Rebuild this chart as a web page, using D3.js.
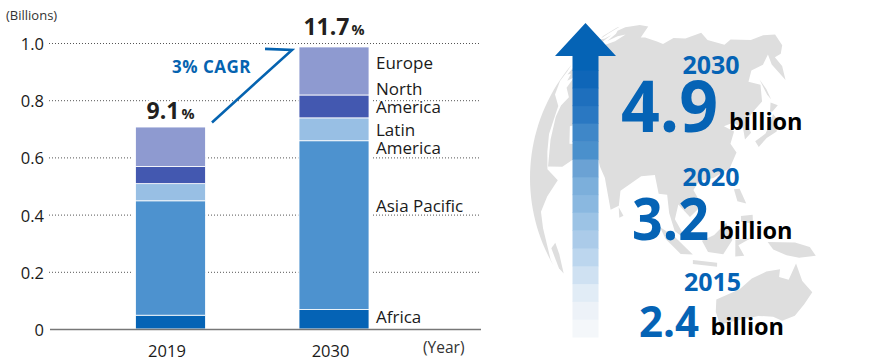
<!DOCTYPE html>
<html>
<head>
<meta charset="utf-8">
<script src="https://cdn.jsdelivr.net/npm/d3@7"></script>
<style>
  html, body { margin: 0; padding: 0; background: #fff; }
  svg { display: block; }
  text { font-family: "Open Sans", "Noto Sans", sans-serif; }
</style>
</head>
<body>
<svg id="chart" width="892" height="364"></svg>
<script>
// chart data
const years = ['2019', '2030'];
const regions = ['Africa', 'Asia Pacific', 'Latin America', 'North America', 'Europe'];
const africa = [0.05, 0.07];
const asiaPacific = [0.40, 0.59];
const latinAmerica = [0.06, 0.08];
const northAmerica = [0.06, 0.08];
const europe = [0.14, 0.17];
const shares = ['9.1', '11.7'];
const yTicks = [0, 0.2, 0.4, 0.6, 0.8, 1.0];
const regionColors = ['#0563b5', '#4d92cf', '#98bfe4', '#4358b0', '#8e9ad0'];

// right panel data
const milestones = [
  { year: '2030', value: '4.9' },
  { year: '2020', value: '3.2' },
  { year: '2015', value: '2.4' }
];
const arrowShades = ['#f4f7fa', '#edf2f8', '#e1ecf6', '#cfe1f2', '#bcd6ee', '#abcbe9', '#9cc3e5', '#8ab8e0',
  '#7cafdb', '#6ba2d4', '#4a90cc', '#3f87c8', '#2a78c2', '#1e6fbd', '#0f66b8'];

// rough coastlines, [lon, lat]
const land = [
  // Eurasia
  [[-10,37],[-9,43],[-1,44],[-4,48],[2,51],[8,54],[9,57],[12,54],[20,55],[24,59],[22,63],[18,60],[16,56],[11,59],[6,59],[6,62],[14,68],[25,71],[40,67],[44,68],[60,69],[68,69],[72,73],[86,74],[104,78],[113,74],[130,71],[140,73],[160,70],[178,69],[190,66],[180,62],[170,60],[163,60],[162,56],[157,51],[156,58],[160,62],[150,59],[140,58],[135,54],[141,52],[138,46],[132,43],[128,40],[129,36],[126,34],[126,38],[122,40],[118,39],[122,37],[120,33],[122,30],[119,25],[113,22],[108,21],[106,18],[109,13],[105,9],[101,13],[100,8],[104,1],[100,4],[98,10],[97,16],[94,16],[92,22],[87,21],[80,15],[80,10],[77,8],[73,18],[70,21],[67,25],[57,25],[50,30],[48,29],[52,24],[56,25],[59,22],[52,16],[43,13],[39,21],[35,28],[34,32],[36,36],[28,37],[27,41],[23,38],[20,40],[16,38],[13,44],[9,44],[3,43],[-1,38],[-5,36],[-10,37]],
  // Africa
  [[-6,36],[10,37],[11,33],[20,31],[32,31],[36,22],[43,12],[51,11],[40,-4],[40,-16],[35,-24],[28,-33],[18,-34],[12,-17],[9,1],[-8,4],[-17,14],[-10,30],[-6,36]],
  // Australia
  [[114,-22],[122,-18],[126,-14],[131,-12],[136,-12],[136,-15],[140,-17],[142,-11],[146,-19],[153,-26],[150,-37],[144,-38],[138,-34],[131,-32],[124,-33],[116,-35],[114,-28],[114,-22]],
  // Borneo, Sumatra, Java, Sulawesi, New Guinea, Philippines
  [[109,1],[113,3],[117,7],[119,1],[116,-4],[111,-3],[109,1]],
  [[95,5],[100,2],[106,-4],[102,-4],[97,1],[95,5]],
  [[106,-6],[114,-7],[114,-8.5],[106,-7.5],[106,-6]],
  [[120,1],[125,1],[121,-1],[123,-5],[120,-5],[120,1]],
  [[131,-1],[141,-3],[147,-6],[150,-10],[143,-9],[138,-7],[133,-4],[131,-1]],
  [[120,18],[122,18],[124,13],[121,14],[120,18]],
  [[122,9],[126,9],[126,6],[122,7],[122,9]],
  // Japan and Sakhalin
  [[130,33],[135,35],[137,37],[140,40],[141,41],[142,39],[140,35],[135,33.5],[131,31],[130,33]],
  [[140,42],[142,45],[145,43.5],[141,41.8],[140,42]],
  [[142,54],[143,50],[143,46],[142,48],[142,54]],
  // Madagascar and Sri Lanka
  [[44,-16],[49,-12],[50,-16],[47,-25],[44,-24],[44,-16]],
  [[80,9.5],[82,7],[80.5,6],[80,9.5]],
  // Great Britain
  [[-5,50],[1,51],[0,54],[-3,58],[-6,56],[-3,53],[-5,50]]
];

const svg = d3.select('#chart');

// ---- globe ----
const projection = d3.geoOrthographic()
  .rotate([-110, -22])
  .scale(175)
  .translate([705, 178]);
const geoPath = d3.geoPath(projection);

// d3.geo fills the outside of a ring wound the wrong way round
const globe = svg.append('g');
land.forEach(ring => {
  const wound = d3.polygonArea(ring) > 0 ? ring : ring.slice().reverse();
  globe.append('path')
    .attr('d', geoPath({ type: 'Polygon', coordinates: [wound] }))
    .attr('fill', '#dedede');
});

// ---- stacked bars ----
const y = d3.scaleLinear().domain([0, 1]).range([329.5, 43.5]);
const x = d3.scaleBand().domain(years).range([135.5, 369]).paddingInner(0.572).paddingOuter(0);

const rows = years.map((year, i) => ({
  year: year,
  'Africa': africa[i],
  'Asia Pacific': asiaPacific[i],
  'Latin America': latinAmerica[i],
  'North America': northAmerica[i],
  'Europe': europe[i]
}));
const stacked = d3.stack().keys(regions)(rows);
const barTop = i => y(d3.sum(stacked, s => s[i][1] - s[i][0]));

// gridlines
svg.append('g').selectAll('line')
  .data(yTicks.filter(d => d > 0))
  .join('line')
  .attr('x1', 49)
  .attr('x2', 481)
  .attr('y1', d => y(d))
  .attr('y2', d => y(d))
  .attr('stroke', '#555')
  .attr('stroke-width', 1)
  .attr('stroke-dasharray', '1 2');

svg.append('g').selectAll('g')
  .data(stacked)
  .join('g')
  .attr('fill', (d, i) => regionColors[i])
  .selectAll('rect')
  .data(d => d)
  .join('rect')
  .attr('x', d => x(d.data.year))
  .attr('width', x.bandwidth())
  .attr('y', d => y(d[1]))
  .attr('height', d => y(d[0]) - y(d[1]))
  .attr('stroke', '#fff')
  .attr('stroke-width', 0.8);

// white halo that breaks the gridlines around the bars
svg.append('g').selectAll('rect')
  .data(years)
  .join('rect')
  .attr('x', d => x(d) - 1.5)
  .attr('width', x.bandwidth() + 3)
  .attr('y', (d, i) => barTop(i))
  .attr('height', (d, i) => y(0) - barTop(i))
  .attr('fill', 'none')
  .attr('stroke', '#fff')
  .attr('stroke-width', 2);

// axes
const yAxis = d3.axisLeft(y)
  .tickValues(yTicks)
  .tickSize(0)
  .tickPadding(0)
  .tickFormat(d => d === 0 ? '0' : d3.format('.1f')(d));
const yG = svg.append('g').attr('transform', 'translate(44,0)').call(yAxis);
yG.select('.domain').remove();
yG.selectAll('text').attr('font-size', 16.5).attr('fill', '#1a1a1a').attr('dy', '0.36em');

const xAxis = d3.axisBottom(x).tickSize(0).tickPadding(0);
const xG = svg.append('g').attr('transform', 'translate(-3.5,329.5)').call(xAxis);
xG.select('.domain').remove();
xG.selectAll('text').attr('y', 27).attr('dy', 0).attr('font-size', 16.5).attr('fill', '#1a1a1a');

svg.append('line')
  .attr('x1', 50).attr('x2', 481)
  .attr('y1', y(0)).attr('y2', y(0))
  .attr('stroke', '#777').attr('stroke-width', 1.6);

svg.append('text').attr('x', 6).attr('y', 20)
  .attr('font-size', 13).attr('fill', '#333').text('(Billions)');
svg.append('text').attr('x', 423).attr('y', 353)
  .attr('font-size', 15.5).attr('fill', '#333').text('(Year)');

// share labels over the bars
const shareGap = [7, 11];
const shareLabels = svg.append('g').selectAll('text')
  .data(years)
  .join('text')
  .attr('x', d => x(d) + x.bandwidth() / 2)
  .attr('y', (d, i) => barTop(i) - shareGap[i])
  .attr('text-anchor', 'middle')
  .attr('fill', '#231f20')
  .attr('paint-order', 'stroke')
  .attr('stroke', '#fff')
  .attr('stroke-width', 5);
shareLabels.append('tspan')
  .attr('font-size', 23).attr('font-weight', 700)
  .text((d, i) => shares[i]);
shareLabels.append('tspan')
  .attr('font-size', 14.5).attr('font-weight', 700).attr('dx', 2)
  .text('%');

// region labels right of the 2030 bar, lines as in the reference
const labelLines = [['Africa'], ['Asia Pacific'], ['Latin', 'America'], ['North', 'America'], ['Europe']];
const labelBase = [323, 212, 136, 95, 69];
const labelX = x('2030') + x.bandwidth() + 7;
svg.append('g').selectAll('text')
  .data(regions)
  .join('text')
  .attr('font-size', 17)
  .attr('fill', '#1a1a1a')
  .attr('paint-order', 'stroke')
  .attr('stroke', '#fff')
  .attr('stroke-width', 3)
  .each(function(d, i) {
    d3.select(this).selectAll('tspan')
      .data(labelLines[i])
      .join('tspan')
      .attr('x', labelX)
      .attr('y', (l, j) => labelBase[i] + j * 17.5)
      .text(l => l);
  });

// CAGR connector
svg.append('path')
  .attr('d', d3.line()([
    [x('2019') + x.bandwidth() + 6.5, barTop(0) - 4],
    [x('2030') - 7, barTop(1) + 3.5],
    [x('2030') - 34, barTop(1) + 2.5]
  ]))
  .attr('fill', 'none')
  .attr('stroke', '#0563b0')
  .attr('stroke-width', 2.6);
svg.append('text')
  .attr('x', 172).attr('y', 73)
  .attr('font-size', 17).attr('font-weight', 700)
  .attr('letter-spacing', 0.5)
  .attr('fill', '#0563b0')
  .text('3% CAGR');

// ---- growth arrow ----
const arrowX = 585.5;
const arrowY = d3.scaleLinear().domain([0, arrowShades.length]).range([337, 70]);

svg.append('g').selectAll('rect')
  .data(arrowShades)
  .join('rect')
  .attr('x', arrowX - 13)
  .attr('width', 26)
  .attr('y', (d, i) => arrowY(i + 1))
  .attr('height', (d, i) => arrowY(i) - arrowY(i + 1) + 0.5)
  .attr('fill', d => d);

svg.append('path')
  .attr('d', d3.line()([
    [arrowX, 23], [arrowX + 30.5, 56], [arrowX + 13, 56], [arrowX + 13, 70.5],
    [arrowX - 13, 70.5], [arrowX - 13, 56], [arrowX - 30.5, 56]
  ]) + 'Z')
  .attr('fill', '#0563b5');

// ---- population figures ----
const figureSpots = [
  { yearX: 711, yearY: 73.5, valueX: 621, valueY: 132, size: 72, width: 97, unitX: 729, unitY: 130 },
  { yearX: 711, yearY: 186, valueX: 632, valueY: 240, size: 59, width: 77, unitX: 719, unitY: 239 },
  { yearX: 712.5, yearY: 291, valueX: 639, valueY: 336.5, size: 43, width: 60, unitX: 710.5, unitY: 335 }
];
const figures = svg.append('g').selectAll('g')
  .data(milestones)
  .join('g');
figures.append('text')
  .attr('x', (d, i) => figureSpots[i].yearX)
  .attr('y', (d, i) => figureSpots[i].yearY)
  .attr('text-anchor', 'middle')
  .attr('font-size', 25)
  .attr('font-weight', 700)
  .attr('fill', '#0563b5')
  .text(d => d.year);
figures.append('text')
  .attr('x', (d, i) => figureSpots[i].valueX)
  .attr('y', (d, i) => figureSpots[i].valueY)
  .attr('font-size', (d, i) => figureSpots[i].size)
  .attr('font-weight', 700)
  .attr('textLength', (d, i) => figureSpots[i].width)
  .attr('lengthAdjust', 'spacingAndGlyphs')
  .attr('fill', '#0563b5')
  .text(d => d.value);
figures.append('text')
  .attr('x', (d, i) => figureSpots[i].unitX)
  .attr('y', (d, i) => figureSpots[i].unitY)
  .attr('font-size', 23.5)
  .attr('font-weight', 700)
  .attr('fill', '#000')
  .text('billion');
</script>
</body>
</html>
